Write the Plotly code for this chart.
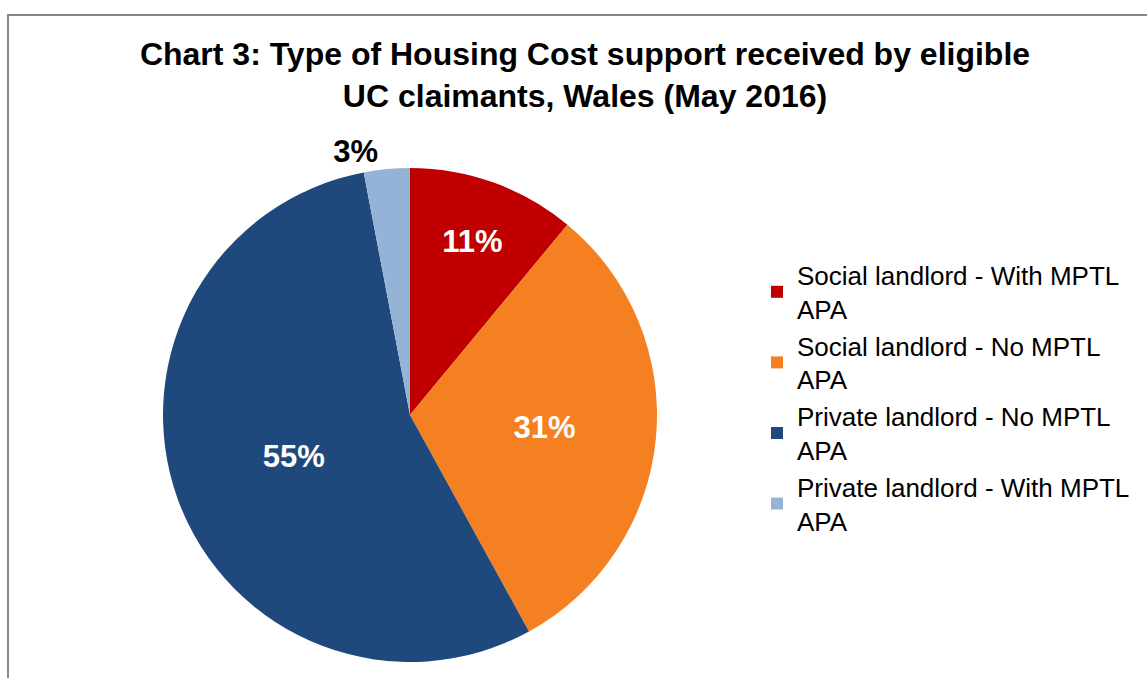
import plotly.graph_objects as go

# Housing cost support shares (%), clockwise from 12 o'clock
categories = [
    "Social landlord - With MPTL<br>APA",
    "Social landlord - No MPTL<br>APA",
    "Private landlord - No MPTL<br>APA",
    "Private landlord - With MPTL<br>APA",
]
shares = [11, 31, 55, 3]
colors = ["#C00000", "#F58021", "#1F497D", "#95B3D7"]
label_positions = ["inside", "inside", "inside", "outside"]

W, H = 1147, 678

def px_x(v):
    return v / W

def px_y(v):
    return 1 - v / H

fig = go.Figure(
    go.Pie(
        labels=categories,
        values=shares,
        sort=False,
        direction="clockwise",
        rotation=0,
        marker=dict(colors=colors, line=dict(width=0)),
        texttemplate="%{percent:.0%}",
        textposition=label_positions,
        insidetextorientation="horizontal",
        insidetextfont=dict(family="Liberation Sans, Arial", size=31, color="white", weight="bold"),
        outsidetextfont=dict(family="Liberation Sans, Arial", size=31, color="black", weight="bold"),
        domain=dict(x=[px_x(163), px_x(657)], y=[px_y(662), px_y(168)]),
        hoverinfo="label+percent",
        automargin=False,
    )
)

fig.update_layout(
    width=W,
    height=H,
    margin=dict(l=0, r=0, t=0, b=0),
    paper_bgcolor="white",
    plot_bgcolor="white",
    font=dict(family="Liberation Sans, Arial", color="black"),
    title=dict(
        text="<b>Chart 3: Type of Housing Cost support received by eligible<br>UC claimants, Wales (May 2016)</b>",
        font=dict(size=32, family="Liberation Sans, Arial", color="black"),
        x=px_x(585),
        xanchor="center",
        y=px_y(65),
        yanchor="top",
        pad=dict(t=0),
    ),
    legend=dict(
        x=px_x(757),
        xanchor="left",
        y=px_y(398),
        yanchor="middle",
        font=dict(size=26, family="Liberation Sans, Arial", color="black"),
        bgcolor="rgba(0,0,0,0)",
        traceorder="normal",
    ),
    shapes=[
        dict(
            type="rect",
            xref="paper",
            yref="paper",
            x0=px_x(8),
            x1=1.05,
            y0=-0.05,
            y1=px_y(15),
            line=dict(color="#878787", width=2),
            fillcolor="rgba(0,0,0,0)",
            layer="below",
        )
    ],
)

fig.write_html("out.html")
